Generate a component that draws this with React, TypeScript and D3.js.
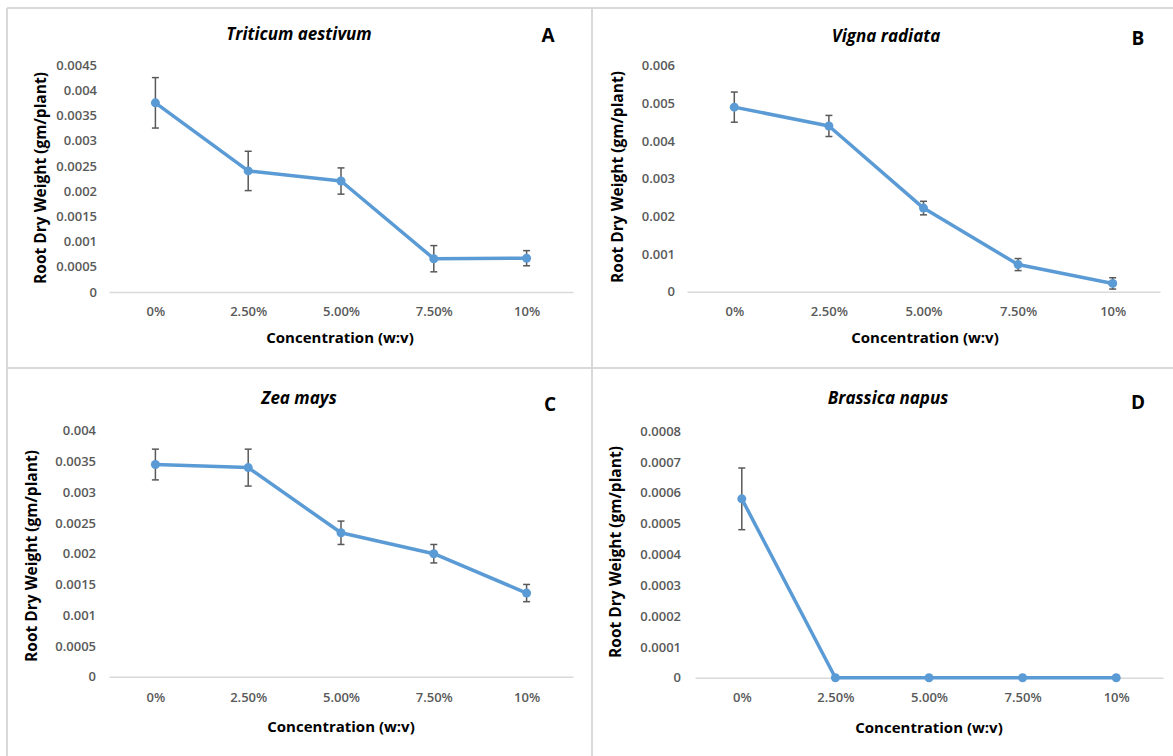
// Root dry weight vs. concentration, four species (panels A–D).
// Excel-style line charts with error bars, drawn with d3 into one svg.
import { useEffect, useRef } from "react";
import * as d3 from "d3";

const concentrations = ["0%", "2.50%", "5.00%", "7.50%", "10%"];

const triticumMean = [0.00375, 0.0024, 0.0022, 0.00066, 0.00067];
const triticumErr = [0.0005, 0.00039, 0.00026, 0.00026, 0.00015];
const triticumTicks = ["0", "0.0005", "0.001", "0.0015", "0.002", "0.0025", "0.003", "0.0035", "0.004", "0.0045"];

const vignaMean = [0.0049, 0.0044, 0.00222, 0.00072, 0.00022];
const vignaErr = [0.0004, 0.00028, 0.00018, 0.00016, 0.00015];
const vignaTicks = ["0", "0.001", "0.002", "0.003", "0.004", "0.005", "0.006"];

const zeaMean = [0.00345, 0.0034, 0.00234, 0.002, 0.00136];
const zeaErr = [0.00025, 0.0003, 0.00019, 0.00015, 0.00014];
const zeaTicks = ["0", "0.0005", "0.001", "0.0015", "0.002", "0.0025", "0.003", "0.0035", "0.004"];

const brassicaMean = [0.00058, 0, 0, 0, 0];
const brassicaErr = [0.0001, 0, 0, 0, 0];
const brassicaTicks = ["0", "0.0001", "0.0002", "0.0003", "0.0004", "0.0005", "0.0006", "0.0007", "0.0008"];

const W = 1173;
const H = 756;
const BLUE = "#5b9bd5";
const FONT = "'Open Sans', 'Liberation Sans', sans-serif";

// layout per panel (pixel boxes only)
const panels = [
  {
    title: "Triticum aestivum", letter: "A", mean: triticumMean, err: triticumErr, ticks: triticumTicks,
    x0: 109, x1: 573, yBase: 292, yTop: 65, titleX: 299, titleY: 33, letterX: 548, letterY: 35,
    labelRight: 97, yTitleX: 40, yTitleY: 178, xTickY: 312, xTitleX: 340, xTitleY: 337,
  },
  {
    title: "Vigna radiata", letter: "B", mean: vignaMean, err: vignaErr, ticks: vignaTicks,
    x0: 687, x1: 1160, yBase: 291.7, yTop: 65.7, titleX: 886, titleY: 35, letterX: 1138, letterY: 38,
    labelRight: 675, yTitleX: 617, yTitleY: 177, xTickY: 312, xTitleX: 925, xTitleY: 337,
  },
  {
    title: "Zea mays", letter: "C", mean: zeaMean, err: zeaErr, ticks: zeaTicks,
    x0: 109, x1: 573, yBase: 676.7, yTop: 430.7, titleX: 299, titleY: 397, letterX: 550, letterY: 404,
    labelRight: 96, yTitleX: 31, yTitleY: 556, xTickY: 698, xTitleX: 341, xTitleY: 726,
  },
  {
    title: "Brassica napus", letter: "D", mean: brassicaMean, err: brassicaErr, ticks: brassicaTicks,
    x0: 695, x1: 1163, yBase: 677.7, yTop: 431, titleX: 888, titleY: 397, letterX: 1138, letterY: 402,
    labelRight: 681, yTitleX: 615, yTitleY: 552, xTickY: 698, xTitleX: 929, xTitleY: 727,
  },
];

export default function App() {
  const ref = useRef<SVGSVGElement>(null);

  useEffect(() => {
    document.body.style.margin = "0";
    const svg = d3.select(ref.current);
    svg.selectAll("*").remove();

    svg.append("rect").attr("width", W).attr("height", H).attr("fill", "#fff");

    // panel frames
    const frame = svg.append("g").attr("stroke", "#d9d9d9").attr("stroke-width", 2);
    frame.append("line").attr("x1", 7).attr("x2", W).attr("y1", 8).attr("y2", 8);
    frame.append("line").attr("x1", 7).attr("x2", 7).attr("y1", 8).attr("y2", H);
    frame.append("line").attr("x1", 592).attr("x2", 592).attr("y1", 8).attr("y2", H);
    frame.append("line").attr("x1", 7).attr("x2", W).attr("y1", 368).attr("y2", 368);

    for (const p of panels) {
      const g = svg.append("g");
      const yMax = +p.ticks[p.ticks.length - 1];
      const x = d3.scalePoint<string>().domain(concentrations).range([p.x0, p.x1]).padding(0.5);
      const y = d3.scaleLinear().domain([0, yMax]).range([p.yBase, p.yTop]);

      // y tick labels
      const gy = g
        .append("g")
        .attr("transform", `translate(${p.labelRight + 2},0)`)
        .call(
          d3.axisLeft(y)
            .tickValues(p.ticks.map(Number))
            .tickSize(0)
            .tickPadding(2)
            .tickFormat((_d, i) => p.ticks[i])
        );
      gy.select(".domain").remove();
      gy.selectAll("text")
        .attr("fill", "#595959")
        .attr("font-family", FONT)
        .attr("font-weight", 600)
        .attr("font-size", "13px");

      // x axis line + labels
      const gx = g
        .append("g")
        .attr("transform", `translate(0,${p.yBase})`)
        .call(d3.axisBottom(x).tickSize(0).tickSizeOuter(0).tickPadding(p.xTickY - p.yBase - 5));
      gx.select(".domain").attr("stroke", "#d9d9d9").attr("stroke-width", 1.5);
      gx.selectAll("text")
        .attr("fill", "#595959")
        .attr("font-family", FONT)
        .attr("font-weight", 600)
        .attr("font-size", "13px");

      // error bars
      const bars = concentrations
        .map((c, i) => ({ c, m: p.mean[i], e: p.err[i] }))
        .filter((d) => d.e > 0);
      const eb = g.append("g").attr("stroke", "#595959").attr("stroke-width", 1.5);
      eb.selectAll("line.v")
        .data(bars)
        .join("line")
        .attr("class", "v")
        .attr("x1", (d) => x(d.c)!)
        .attr("x2", (d) => x(d.c)!)
        .attr("y1", (d) => y(d.m + d.e))
        .attr("y2", (d) => y(d.m - d.e));
      for (const s of [1, -1]) {
        eb.selectAll(`line.cap${s}`)
          .data(bars)
          .join("line")
          .attr("class", `cap${s}`)
          .attr("x1", (d) => x(d.c)! - 3.5)
          .attr("x2", (d) => x(d.c)! + 3.5)
          .attr("y1", (d) => y(d.m + s * d.e))
          .attr("y2", (d) => y(d.m + s * d.e));
      }

      // series line + markers
      const pts = concentrations.map((c, i) => [x(c)!, y(p.mean[i])] as [number, number]);
      g.append("path")
        .attr("d", d3.line()(pts))
        .attr("fill", "none")
        .attr("stroke", BLUE)
        .attr("stroke-width", 3.5)
        .attr("stroke-linejoin", "round");
      g.append("g")
        .selectAll("circle")
        .data(pts)
        .join("circle")
        .attr("cx", (d) => d[0])
        .attr("cy", (d) => d[1])
        .attr("r", 4.5)
        .attr("fill", BLUE);

      // titles
      g.append("text")
        .attr("x", p.titleX)
        .attr("y", p.titleY)
        .attr("text-anchor", "middle")
        .attr("dominant-baseline", "central")
        .attr("font-family", FONT)
        .attr("font-weight", 700)
        .attr("font-style", "italic")
        .attr("font-size", "17px")
        .attr("fill", "#000")
        .text(p.title);
      g.append("text")
        .attr("x", p.letterX)
        .attr("y", p.letterY)
        .attr("text-anchor", "middle")
        .attr("dominant-baseline", "central")
        .attr("font-family", FONT)
        .attr("font-weight", 700)
        .attr("font-size", "19px")
        .attr("fill", "#000")
        .text(p.letter);
      g.append("text")
        .attr("transform", `translate(${p.yTitleX},${p.yTitleY}) rotate(-90)`)
        .attr("text-anchor", "middle")
        .attr("dominant-baseline", "central")
        .attr("font-family", FONT)
        .attr("font-weight", 700)
        .attr("font-size", "15.5px")
        .attr("fill", "#000")
        .text("Root Dry Weight (gm/plant)");
      g.append("text")
        .attr("x", p.xTitleX)
        .attr("y", p.xTitleY)
        .attr("text-anchor", "middle")
        .attr("dominant-baseline", "central")
        .attr("font-family", FONT)
        .attr("font-weight", 700)
        .attr("font-size", "15px")
        .attr("fill", "#000")
        .text("Concentration (w:v)");
    }
  }, []);

  return <svg ref={ref} width={W} height={H} style={{ display: "block" }} />;
}
